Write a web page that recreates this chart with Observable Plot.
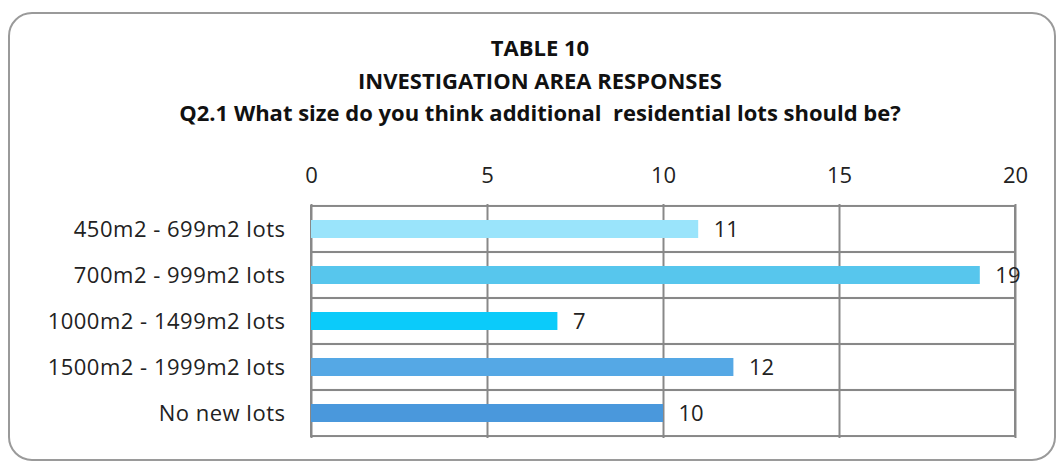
<!DOCTYPE html>
<html><head><meta charset="utf-8">
<script src="https://cdn.jsdelivr.net/npm/d3@7"></script>
<script src="https://cdn.jsdelivr.net/npm/@observablehq/plot@0.6"></script>
<style>
html,body{margin:0;padding:0;background:#fff;}
#wrap{position:relative;width:1057px;height:463px;overflow:hidden;font-family:"Open Sans",sans-serif;}
#border{position:absolute;left:8px;top:12px;width:1044px;height:445px;border:2px solid #9a9a9a;border-radius:24px;}
#title{position:absolute;left:0;top:31px;width:1080px;text-align:center;font-weight:bold;font-size:22px;line-height:32.5px;color:#111;white-space:pre;}
#chart{position:absolute;left:0;top:140px;}
</style></head>
<body>
<div id="wrap">
<div id="border"></div>
<div id="title">TABLE 10
INVESTIGATION AREA RESPONSES
Q2.1 What size do you think additional  residential lots should be?</div>
<div id="chart"></div>
</div>
<script>
const categories = ["450m2 - 699m2 lots","700m2 - 999m2 lots","1000m2 - 1499m2 lots","1500m2 - 1999m2 lots","No new lots"];
const values = [11, 19, 7, 12, 10];
const colors = ["#9ae4fb","#57c6ed","#0bcbfa","#55a8e5","#4a98dc"];
const xTicks = [0, 5, 10, 15, 20];

const data = categories.map((c, i) => ({category: c, value: values[i], color: colors[i]}));

const step = (438 - 204) / 5;
const bw = step * 0.4;
const inset = -(step - bw) / 2;

const chart = Plot.plot({
  width: 1057,
  height: 310,
  marginLeft: 311,
  marginRight: 42,
  marginTop: 64,
  marginBottom: 12,
  style: {fontFamily: '"Open Sans", sans-serif', fontSize: "22px", color: "#222", background: "transparent"},
  x: {domain: [0, 20], ticks: xTicks, axis: null},
  y: {domain: categories, paddingInner: 0.6, paddingOuter: 0.3, axis: null},
  marks: [
    Plot.gridX(xTicks, {stroke: "#888", strokeOpacity: 1, strokeWidth: 2}),
    Plot.barX(categories, {x1: 0, x2: 20, y: d => d, fill: "none", stroke: "#888", strokeWidth: 2, insetTop: inset, insetBottom: inset}),
    Plot.barX(data, {x: "value", y: "category", fill: "color"}),
    Plot.text(data, {x: "value", y: "category", text: d => String(d.value), textAnchor: "start", dx: 15, fill: "#222", fontSize: 22}),
    Plot.axisX(xTicks, {anchor: "top", tickSize: 0, tickPadding: 22, fontSize: 22, fill: "#222", label: null}),
    Plot.axisY({anchor: "left", tickSize: 0, tickPadding: 26, fontSize: 22, fill: "#222", label: null})
  ]
});
chart.querySelectorAll('[aria-label="y-axis tick label"] text').forEach(t => t.setAttribute("letter-spacing", "0.5"));
document.getElementById("chart").appendChild(chart);
</script>
</body></html>
